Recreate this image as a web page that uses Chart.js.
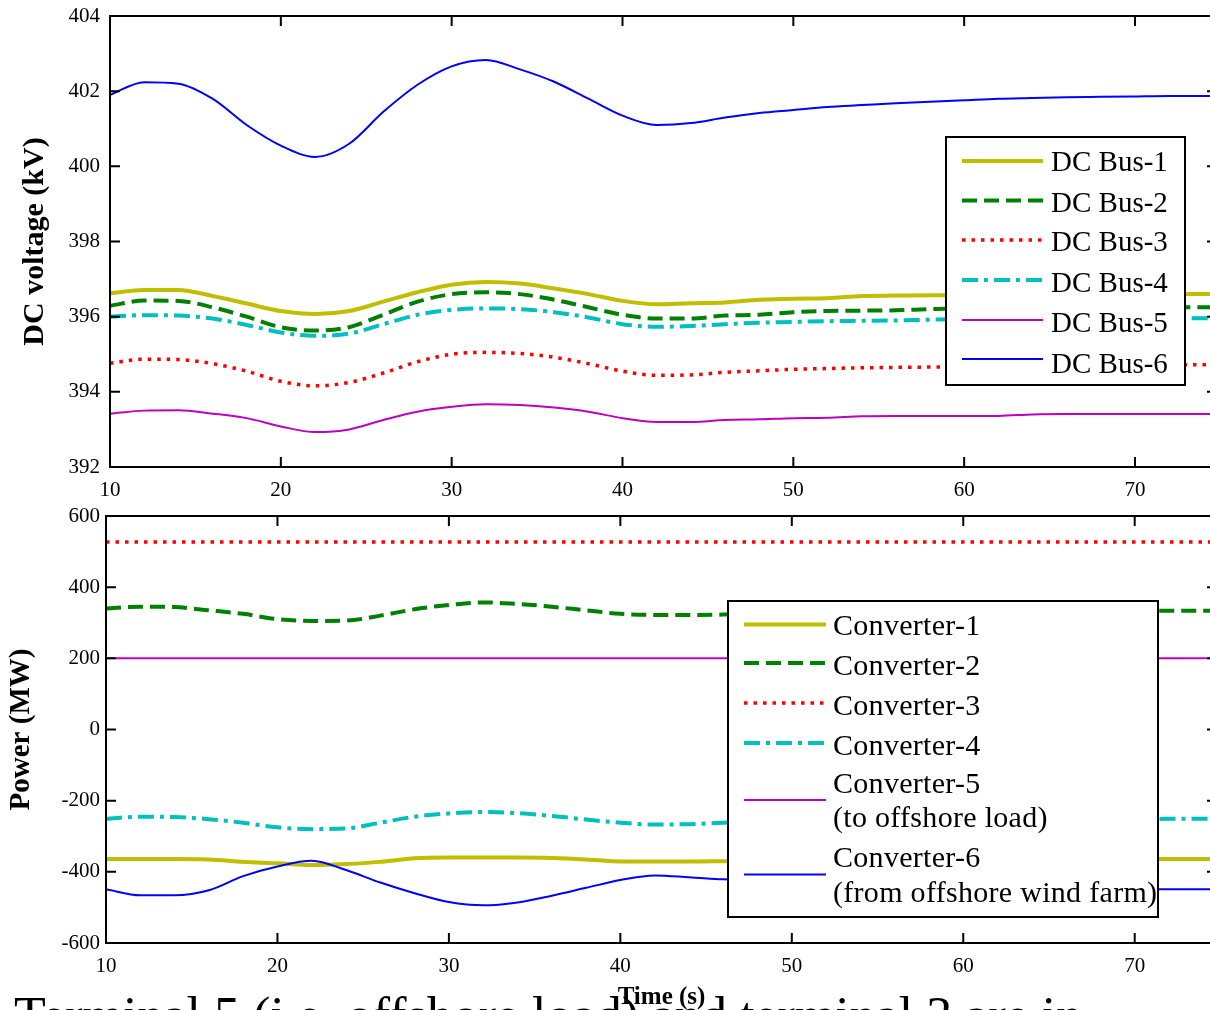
<!DOCTYPE html>
<html>
<head>
<meta charset="utf-8">
<script src="https://cdn.jsdelivr.net/npm/chart.js@4.4.1/dist/chart.umd.min.js"></script>
<style>
  html, body { margin: 0; padding: 0; background: #fff; overflow: hidden; }
  body { width: 1210px; height: 1010px; position: relative; }
  .panel { position: absolute; left: 0; }
  #note {
    position: absolute; left: 14px; top: 990px;
    font: 52px/52px "Liberation Serif", "Times New Roman", serif;
    white-space: nowrap; color: #000;
  }
</style>
</head>
<body>
<div class="panel" style="top:0"><canvas id="voltage" width="1240" height="505"></canvas></div>
<div class="panel" style="top:505px"><canvas id="power" width="1240" height="505"></canvas></div>
<div id="note">Terminal 5 (i.e. offshore load) and terminal 3 are in</div>
<script>
// sample times (s), read every 2 s off the traces
const time = [10,12,14,16,18,20,22,24,26,28,30,32,34,36,38,40,42,44,46,48,50,52,54,56,58,60,62,64,66,68,70,72,74,76]
const xTicks = [10,20,30,40,50,60,70]
const voltTicks = [392,394,396,398,400,402,404]
const powerTicks = [-600,-400,-200,0,200,400,600]

const busLabels = ["DC Bus-1","DC Bus-2","DC Bus-3","DC Bus-4","DC Bus-5","DC Bus-6"]
const converterLabels = [
  ["Converter-1"], ["Converter-2"], ["Converter-3"], ["Converter-4"],
  ["Converter-5", "(to offshore load)"],
  ["Converter-6", "(from offshore wind farm)"]
]

// DC voltage (kV)
const dcBus1 = [396.62,396.71,396.71,396.55,396.35,396.15,396.07,396.15,396.4,396.65,396.85,396.92,396.88,396.75,396.6,396.42,396.33,396.36,396.38,396.45,396.48,396.49,396.55,396.56,396.57,396.57,396.58,396.58,396.58,396.59,396.59,396.6,396.6,396.6]
const dcBus2 = [396.29,396.43,396.42,396.25,396.0,395.72,395.63,395.72,396.05,396.4,396.6,396.65,396.6,396.45,396.25,396.05,395.95,395.95,396.03,396.05,396.12,396.15,396.16,396.17,396.2,396.22,396.22,396.23,396.23,396.24,396.24,396.25,396.25,396.25]
const dcBus3 = [394.76,394.87,394.86,394.75,394.55,394.28,394.16,394.25,394.5,394.8,395.0,395.05,395.02,394.92,394.75,394.55,394.44,394.45,394.52,394.56,394.6,394.62,394.64,394.65,394.66,394.67,394.68,394.69,394.7,394.7,394.71,394.72,394.72,394.72]
const dcBus4 = [396.0,396.04,396.03,395.95,395.78,395.58,395.49,395.55,395.8,396.05,396.18,396.22,396.2,396.12,395.98,395.8,395.73,395.75,395.8,395.84,395.86,395.88,395.89,395.9,395.92,395.93,395.93,395.94,395.94,395.95,395.95,395.96,395.96,395.96]
const dcBus5 = [393.42,393.5,393.51,393.42,393.3,393.08,392.93,393.0,393.25,393.47,393.6,393.67,393.65,393.58,393.47,393.3,393.2,393.2,393.25,393.27,393.3,393.31,393.35,393.36,393.36,393.36,393.36,393.4,393.41,393.41,393.41,393.41,393.41,393.41]
const dcBus6 = [401.9,402.24,402.2,401.8,401.1,400.55,400.25,400.6,401.45,402.17,402.66,402.83,402.58,402.25,401.8,401.35,401.1,401.15,401.3,401.42,401.5,401.58,401.63,401.68,401.72,401.76,401.8,401.82,401.84,401.85,401.86,401.87,401.87,401.88]

// converter power (MW)
const conv1 = [-364,-364,-364,-365,-372,-376,-381,-378,-372,-362,-360,-360,-360,-361,-365,-371,-371,-371,-370,-369,-368,-368,-367,-367,-366,-366,-365,-365,-365,-364,-364,-364,-364,-364]
const conv2 = [340,345,344,335,325,310,305,306,320,338,350,357,353,345,335,325,322,322,323,325,327,328,329,330,330,331,332,332,333,333,333,334,334,334]
const conv3 = [527,527,527,527,527,527,527,527,527,527,527,527,527,527,527,527,527,527,527,527,527,527,527,527,527,527,527,527,527,527,527,527,527,527]
const conv4 = [-251,-245,-246,-252,-262,-275,-280,-278,-262,-245,-236,-232,-235,-243,-253,-262,-267,-266,-262,-260,-259,-258,-257,-256,-255,-255,-254,-253,-253,-252,-252,-251,-251,-251]
const conv5 = [200,200,200,200,200,200,200,200,200,200,200,200,200,200,200,200,200,200,200,200,200,200,200,200,200,200,200,200,200,200,200,200,200,200]
const conv6 = [-449,-466,-466,-452,-412,-385,-369,-395,-430,-460,-485,-494,-486,-467,-445,-423,-410,-415,-421,-425,-428,-431,-434,-436,-438,-440,-442,-444,-446,-448,-449,-449,-449,-449]

const SERIF = '"Liberation Serif", "Times New Roman", serif'
Chart.defaults.font.family = SERIF
Chart.defaults.color = "#000"

// MATLAB default line specs: '-', '--', ':', '-.', '-', '-'
const styles = [
  { color: "#bfbf00", width: 4, dash: [] },
  { color: "#008000", width: 4, dash: [15, 7] },
  { color: "#ff0000", width: 3.5, dash: [3.5, 6] },
  { color: "#00bfbf", width: 4, dash: [16, 6, 4, 6] },
  { color: "#bf00bf", width: 2, dash: [] },
  { color: "#0000ff", width: 2, dash: [] }
]

function makeDatasets(labels, series) {
  return series.map((values, i) => ({
    label: [].concat(labels[i]).join(" "),
    data: values,
    borderColor: styles[i].color,
    borderWidth: styles[i].width,
    borderDash: styles[i].dash,
    pointRadius: 0,
    cubicInterpolationMode: "monotone",
    fill: false,
    order: series.length - i
  }))
}

// axes box with inward ticks, plus a boxed legend drawn like the MATLAB one
const matlabAxes = {
  id: "matlabAxes",
  afterDatasetsDraw(chart, args, opts) {
    const ctx = chart.ctx
    const { left, right, top, bottom } = chart.chartArea
    const xs = chart.scales.x, ys = chart.scales.y
    const tl = 10
    ctx.save()
    ctx.strokeStyle = "#000"
    ctx.lineWidth = 2
    ctx.setLineDash([])
    ctx.strokeRect(left, top, right - left, bottom - top)
    ctx.beginPath()
    opts.xTicks.forEach(v => {
      const px = xs.getPixelForValue(v)
      ctx.moveTo(px, bottom); ctx.lineTo(px, bottom - tl)
      ctx.moveTo(px, top); ctx.lineTo(px, top + tl)
    })
    opts.yTicks.forEach(v => {
      const py = ys.getPixelForValue(v)
      ctx.moveTo(left, py); ctx.lineTo(left + tl, py)
      ctx.moveTo(right, py); ctx.lineTo(right - tl, py)
    })
    ctx.stroke()

    const lg = opts.legend
    ctx.fillStyle = "#fff"
    ctx.fillRect(lg.x, lg.y, lg.w, lg.h)
    ctx.strokeRect(lg.x, lg.y, lg.w, lg.h)
    chart.data.datasets.forEach((ds, i) => {
      const row = lg.rows[i]
      ctx.save()
      ctx.strokeStyle = ds.borderColor
      ctx.lineWidth = ds.borderWidth
      ctx.setLineDash(ds.borderDash)
      ctx.beginPath()
      ctx.moveTo(lg.sampleX0, row.lineY)
      ctx.lineTo(lg.sampleX1, row.lineY)
      ctx.stroke()
      ctx.restore()
    })
    ctx.font = lg.font
    ctx.letterSpacing = lg.spacing
    ctx.fillStyle = "#000"
    ctx.textAlign = "left"
    ctx.textBaseline = "alphabetic"
    lg.rows.forEach((row, i) => {
      lg.lines[i].forEach((text, j) => ctx.fillText(text, lg.textX, row.baselines[j]))
    })
    ctx.restore()
  }
}

// the plot box is pinned by layout padding, so drop the label overhang padding
function pinBox(s, size) {
  if (s.isHorizontal()) s.height = size
  else s.width = size
  s.paddingTop = 0
  s.paddingBottom = 0
  s.paddingLeft = 0
  s.paddingRight = 0
}

function axisOptions({ yMin, yMax, yTicks, yWidth, yPad, xHeight, title, titleSize, titlePad, xTitle }) {
  return {
    x: {
      type: "linear", min: 10, max: 74.8,
      afterBuildTicks: s => { s.ticks = xTicks.map(v => ({ value: v })) },
      afterFit: s => pinBox(s, xHeight),
      grid: { display: false, drawTicks: false },
      border: { display: false },
      ticks: { padding: 13, maxRotation: 0, autoSkip: false, font: { size: 21, lineHeight: 1 } },
      title: xTitle
        ? { display: true, text: xTitle, font: { size: 25, weight: "bold", lineHeight: 1 }, padding: { top: 0, bottom: 0 } }
        : { display: false }
    },
    y: {
      type: "linear", min: yMin, max: yMax,
      afterBuildTicks: s => { s.ticks = yTicks.map(v => ({ value: v })) },
      afterFit: s => pinBox(s, yWidth),
      grid: { display: false, drawTicks: false },
      border: { display: false },
      ticks: { padding: yPad, font: { size: 21, lineHeight: 1 } },
      title: { display: true, text: title, font: { size: titleSize, weight: "bold", lineHeight: 1.2 }, padding: { top: titlePad, bottom: 0 } }
    }
  }
}

new Chart(document.getElementById("voltage"), {
  type: "line",
  data: { labels: time, datasets: makeDatasets(busLabels, [dcBus1, dcBus2, dcBus3, dcBus4, dcBus5, dcBus6]) },
  options: {
    responsive: false, animation: false, devicePixelRatio: 1,
    layout: { padding: { left: 0, top: 16, right: 23, bottom: 0 } },
    plugins: {
      legend: { display: false }, tooltip: { enabled: false },
      matlabAxes: {
        xTicks, yTicks: voltTicks,
        legend: {
          x: 946, y: 137, w: 239, h: 248, sampleX0: 962, sampleX1: 1043, textX: 1051,
          font: "29px " + SERIF, spacing: "0px",
          lines: busLabels.map(l => [l]),
          rows: [
            { lineY: 161, baselines: [171] },
            { lineY: 200.5, baselines: [211.5] },
            { lineY: 240, baselines: [251] },
            { lineY: 280, baselines: [292] },
            { lineY: 320, baselines: [332] },
            { lineY: 359, baselines: [372.5] }
          ]
        }
      }
    },
    scales: axisOptions({ yMin: 392, yMax: 404, yTicks: voltTicks, yWidth: 110, yPad: 10, xHeight: 38,
      title: "DC voltage (kV)", titleSize: 30, titlePad: 17 })
  },
  plugins: [matlabAxes]
})

new Chart(document.getElementById("power"), {
  type: "line",
  data: { labels: time, datasets: makeDatasets(converterLabels, [conv1, conv2, conv3, conv4, conv5, conv6]) },
  options: {
    responsive: false, animation: false, devicePixelRatio: 1,
    layout: { padding: { left: 0, top: 11, right: 23, bottom: 0 } },
    plugins: {
      legend: { display: false }, tooltip: { enabled: false },
      matlabAxes: {
        xTicks, yTicks: powerTicks,
        legend: {
          x: 728, y: 96, w: 430, h: 316, sampleX0: 744, sampleX1: 826, textX: 833,
          font: "30px " + SERIF, spacing: "0.3px",
          lines: converterLabels,
          rows: [
            { lineY: 119.5, baselines: [130] },
            { lineY: 158, baselines: [170] },
            { lineY: 198, baselines: [210] },
            { lineY: 238, baselines: [250] },
            { lineY: 295, baselines: [288, 322] },
            { lineY: 369.5, baselines: [362, 397] }
          ]
        }
      }
    },
    scales: axisOptions({ yMin: -600, yMax: 600, yTicks: powerTicks, yWidth: 106, yPad: 6, xHeight: 67,
      title: "Power (MW)", titleSize: 29, titlePad: 4, xTitle: "Time (s)" })
  },
  plugins: [matlabAxes]
})
</script>
</body>
</html>
